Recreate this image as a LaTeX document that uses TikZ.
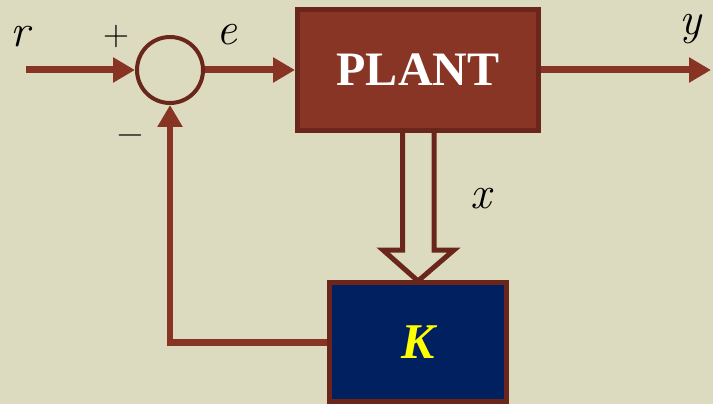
\documentclass[tikz,border=0pt]{standalone}
\usepackage{fontspec}
\usetikzlibrary{arrows.meta}
\newfontfamily\blockfont{Liberation Serif}
\definecolor{bgbeige}{RGB}{220,219,191}
\definecolor{wire}{RGB}{136,52,36}
\definecolor{rim}{RGB}{106,38,26}
\definecolor{plantfill}{RGB}{137,53,37}
\definecolor{gainfill}{RGB}{0,32,96}
\definecolor{gaintext}{RGB}{255,255,0}
\tikzset{
  signal/.style={draw=wire, line width=7pt,
    -{Triangle[length=22pt,width=24pt]}},
  wireline/.style={draw=wire, line width=7pt},
  block/.style={draw=rim, line width=5pt, inner sep=0pt},
  summer/.style={circle, draw=rim, line width=4pt, inner sep=0pt,
    minimum size=66pt},
  varlabel/.style={inner sep=0pt, anchor=base, font=\itshape\fontsize{46}{46}\selectfont},
  signlabel/.style={inner sep=0pt, font=\fontsize{36}{36}\selectfont},
  hollowarrow/.style={draw=rim, line width=5pt, line join=miter}
}
\begin{document}
\begin{tikzpicture}[x=1pt,y=-1pt]
  \fill[bgbeige] (0,0) rectangle (713,404);
  \useasboundingbox (0,0) rectangle (713,404);

  % blocks
  \node[summer] (sum) at (170,70) {};
  \node[block, fill=plantfill, minimum width=241pt, minimum height=121pt,
        text=white, font=\blockfont\bfseries\fontsize{48}{48}\selectfont]
        (plant) at (418,70) {PLANT};
  \node[block, fill=gainfill, minimum width=177pt, minimum height=119pt,
        text=gaintext, font=\blockfont\bfseries\itshape\fontsize{50}{50}\selectfont]
        (gain) at (418,342) {K};

  % signal wires
  \coordinate (rin) at (26,70);
  \coordinate (yout) at (711,70);
  \draw[signal] (rin) -- (sum.west);
  \draw[signal] (sum.east) -- (plant.west);
  \draw[signal] (plant.east) -- (yout);
  \coordinate (corner) at (sum.south |- gain.west);
  \draw[wireline] (gain.west) -- (corner);
  \draw[signal, line width=6.5pt] ([yshift=-4pt]corner) -- (sum.south);

  % state vector x as a hollow block arrow
  \draw[hollowarrow, fill=bgbeige]
    ([xshift=-15.5pt]plant.south) -- ++(0,117)
    -- (383,250) -- ([yshift=-1pt]gain.north) -- (454,250)
    -- ([xshift=16pt]plant.south |- 0,250) -- ([xshift=16pt]plant.south);

  % labels
  \node[varlabel] (lr) at (20,47) {r};
  \node[varlabel] (le) at (227,45) {e};
  \node[varlabel] (ly) at (690,35) {y};
  \node[varlabel] (lx) at (481,208) {x};
  \node[signlabel] (lplus) at (116,37) {+};
  \node[signlabel] (lminus) at (130,140) {−};
\end{tikzpicture}
\end{document}
